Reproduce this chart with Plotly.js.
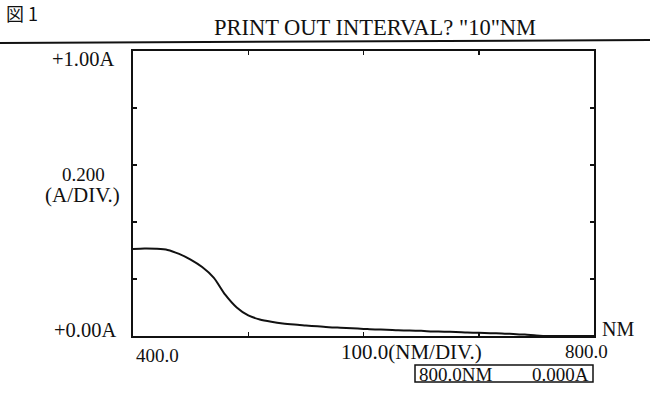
<!DOCTYPE html>
<html>
<head>
<meta charset="utf-8">
<script src="https://cdn.plot.ly/plotly-3.0.1.min.js"></script>
<style>html,body{margin:0;padding:0;background:#fff;}#chart{width:650px;height:394px;}</style>
</head>
<body>
<div id="chart"></div>
<script>
// Wavelength (nm), printed every 10 nm
const wavelength = [400,410,420,430,440,450,460,470,480,490,500,510,520,530,540,550,560,570,580,590,600,610,620,630,640,650,660,670,680,690,700,710,720,730,740,750,760,770,780,790,800];
// Absorbance (A)
const absorbance = [0.305,0.307,0.306,0.302,0.288,0.268,0.242,0.205,0.145,0.100,0.072,0.058,0.050,0.044,0.040,0.037,0.034,0.031,0.029,0.027,0.025,0.023,0.022,0.020,0.019,0.018,0.016,0.015,0.014,0.012,0.011,0.010,0.009,0.007,0.005,0.002,0.000,0.000,0.000,0.000,0.000];
const xTicks = [400,500,600,700,800];
const yTicks = [0,0.2,0.4,0.6,0.8,1.0];

const W = 650, H = 394;
const L = 133, R = 594, T = 51, B = 336;
const px = x => (x - L) / (R - L);
const py = y => (B - y) / (B - T);
const serif = '"Liberation Serif", "Times New Roman", "DejaVu Serif", serif';
const f = (s) => ({family: serif, size: s, color: '#111'});

function ann(text, x, y, xa, size) {
  return {text, xref:'paper', yref:'paper', x:px(x), y:py(y), xanchor:xa, yanchor:'middle', showarrow:false, font:f(size||19)};
}

const annotations = [
  {text:'図 1', xref:'paper', yref:'paper', x:px(4), y:py(13), xanchor:'left', yanchor:'middle', showarrow:false, font:{family:'"Noto Sans CJK JP", '+serif, size:18, color:'#111'}},
  ann('+1.00A', 116, 59, 'right', 20.5),
  ann('0.200', 83, 174, 'center', 19),
  ann('(A/DIV.)', 82, 195, 'center', 21),
  ann('+0.00A', 118, 330, 'right', 20.5),
  ann('400.0', 134, 355, 'left', 19),
  ann('100.0(NM/DIV.)', 484, 352, 'right', 21),
  ann('800.0', 586, 351, 'center', 19),
  ann('NM', 600, 329, 'left', 20),
  ann('800.0NM', 417, 374, 'left', 19),
  ann('0.000A', 591, 374, 'right', 19)
];

const shapes = [
  {type:'line', xref:'paper', yref:'paper', x0:px(0), y0:py(43), x1:px(650), y1:py(40), line:{color:'#111', width:2}},
  {type:'rect', xref:'paper', yref:'paper', x0:px(415), y0:py(365), x1:px(593), y1:py(382), line:{color:'#111', width:1.5}}
];

const trace = {
  x: wavelength, y: absorbance, type:'scatter', mode:'lines',
  line:{color:'#111', width:2, shape:'spline', smoothing:0.8},
  hoverinfo:'skip'
};

const layout = {
  width: W, height: H,
  margin:{l:L, r:W-R, t:T, b:H-B, pad:0},
  paper_bgcolor:'#fff', plot_bgcolor:'#fff',
  showlegend:false,
  title:{text:'PRINT OUT INTERVAL? "10"NM', x:375/W, y:1-27/H, xanchor:'center', yanchor:'middle', xref:'container', yref:'container', font:f(22.5)},
  xaxis:{range:[400,800], tickvals:xTicks, showticklabels:false, ticks:'inside', ticklen:4, tickwidth:1.5, tickcolor:'#111', showline:true, linecolor:'#111', linewidth:2, mirror:'allticks', showgrid:false, zeroline:false, fixedrange:true},
  yaxis:{range:[0,1], tickvals:yTicks, showticklabels:false, ticks:'inside', ticklen:4, tickwidth:1.5, tickcolor:'#111', showline:true, linecolor:'#111', linewidth:2, mirror:'allticks', showgrid:false, zeroline:false, fixedrange:true},
  annotations, shapes
};

Plotly.newPlot('chart', [trace], layout, {displayModeBar:false, staticPlot:true});
</script>
</body>
</html>
